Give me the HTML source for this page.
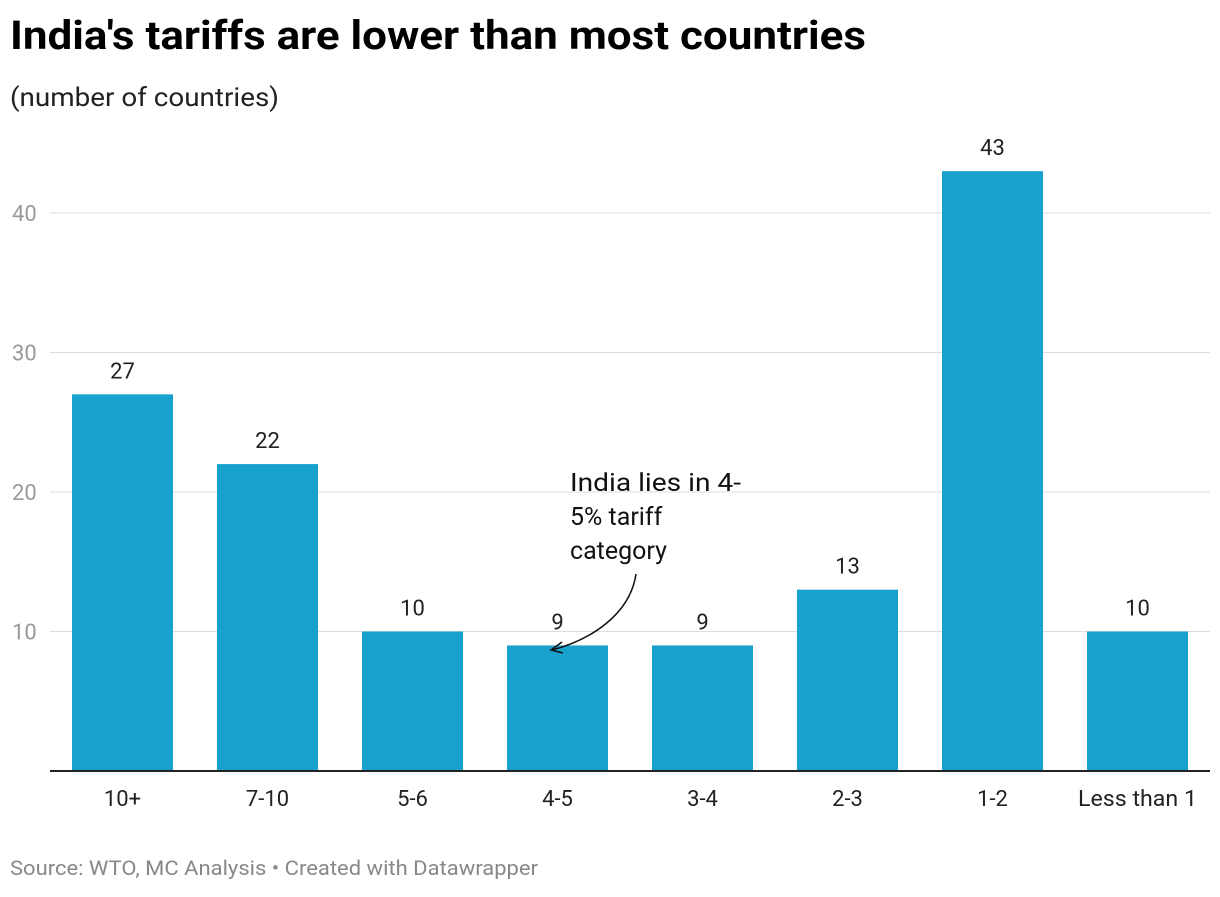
<!DOCTYPE html>
<html><head><meta charset="utf-8"><style>
body{margin:0;background:#fff;font-family:"Liberation Sans",sans-serif;}
svg text{font-family:"Roboto","Liberation Sans",sans-serif;}
</style></head><body>
<svg width="1220" height="892">
<text x="10" y="49" font-size="40" font-weight="bold" fill="#000" textLength="856" lengthAdjust="spacingAndGlyphs">India's tariffs are lower than most countries</text>
<text x="10" y="106" font-size="26" fill="#222" textLength="269" lengthAdjust="spacingAndGlyphs">(number of countries)</text>
<g id="grid"></g>
<g id="bars"></g>
<line x1="50" x2="1210" y1="771" y2="771" stroke="#222" stroke-width="2"/>
<g>
<text x="570" y="491" font-size="25" fill="#111" textLength="171" lengthAdjust="spacingAndGlyphs">India lies in 4-</text>
<text x="570" y="525" font-size="25" fill="#111">5% tariff</text>
<text x="570" y="559" font-size="25" fill="#111">category</text>
<path d="M636,574 C630,615 590,640 552,650" fill="none" stroke="#111" stroke-width="1.5"/>
<path d="M562,642 L551,650 L563,653" fill="none" stroke="#111" stroke-width="1.5"/>
</g>
<text x="10" y="875" font-size="20" fill="#888" textLength="528" lengthAdjust="spacingAndGlyphs">Source: WTO, MC Analysis • Created with Datawrapper</text>
</svg>
<script>
const categories=["10+","7-10","5-6","4-5","3-4","2-3","1-2","Less than 1"];
const values=[27,22,10,9,9,13,43,10];
const ticks=[10,20,30,40];
const NS="http://www.w3.org/2000/svg";
const y=v=>771-v*13.95;
const xc=i=>122.5+i*145;
const grid=document.getElementById('grid'),bars=document.getElementById('bars');
function mk(tag,attrs,p){const e=document.createElementNS(NS,tag);for(const k in attrs)e.setAttribute(k,attrs[k]);p.appendChild(e);return e;}
ticks.forEach(t=>{
 const l=mk('line',{x1:50,x2:1210,y1:y(t),y2:y(t),stroke:'#ddd','stroke-width':1},grid);
 
 
 const tx=mk('text',{x:12,y:y(t)+8,'font-size':22,fill:'#999'},grid);tx.textContent=t;
 
 
});
categories.forEach((c,i)=>{
 const r=mk('rect',{x:xc(i)-50.5,y:y(values[i]),width:101,height:771-y(values[i]),fill:'#18a1cd'},bars);
 
 
 const v=mk('text',{x:xc(i),y:y(values[i])-16,'font-size':22,fill:'#222','text-anchor':'middle'},bars);v.textContent=values[i];
 
 
 const l=mk('text',{x:xc(i),y:806,'font-size':22,fill:'#222','text-anchor':'middle'},bars);l.textContent=c;
 if(c.length>6){l.setAttribute('textLength',119);l.setAttribute('lengthAdjust','spacingAndGlyphs');}
 
 
});
</script>
</body></html>
